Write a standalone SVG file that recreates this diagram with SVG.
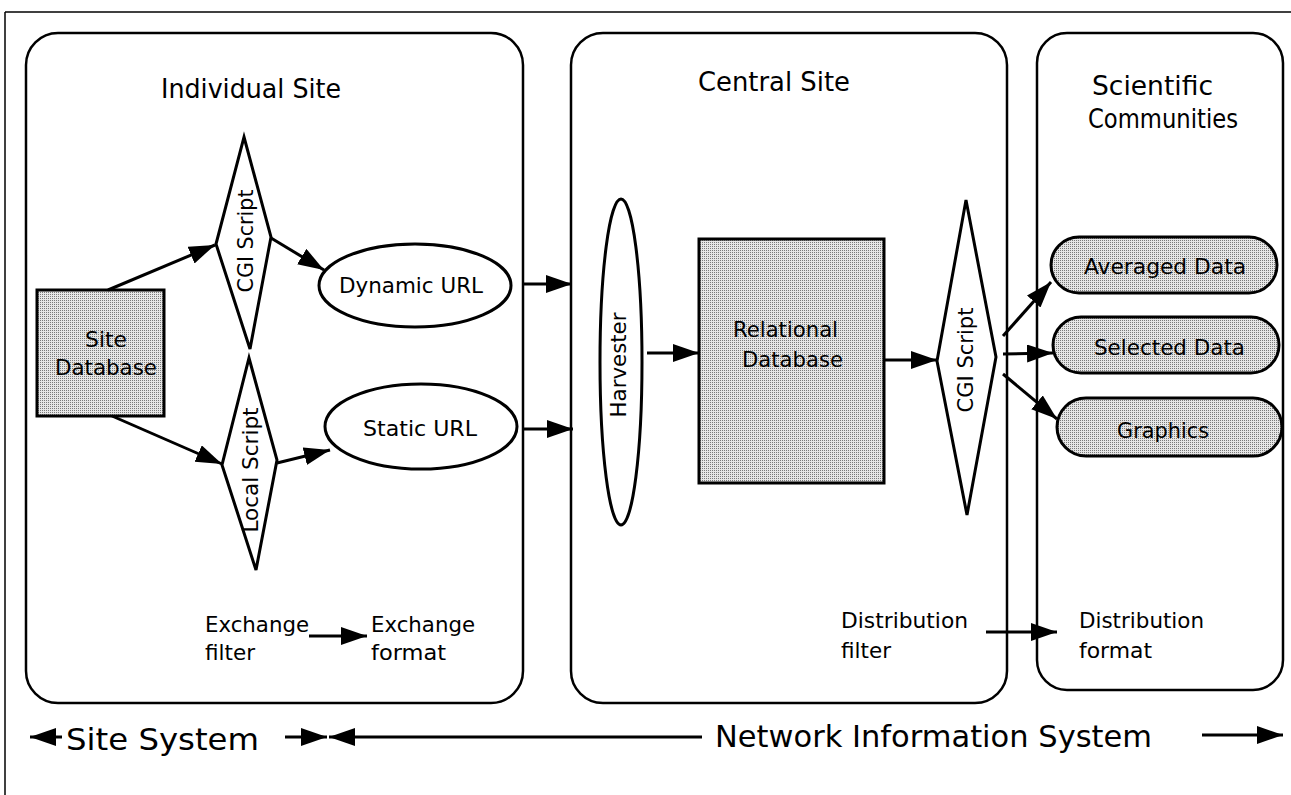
<svg xmlns="http://www.w3.org/2000/svg" width="1291" height="795" viewBox="0 0 1291 795">
<defs>
<pattern id="dots" width="2" height="2" patternUnits="userSpaceOnUse">
<rect width="2" height="2" fill="#e6e6e6"/>
<rect width="1" height="1" fill="#7a7a7a"/>
</pattern>
<marker id="ah" markerUnits="userSpaceOnUse" markerWidth="28" markerHeight="20" refX="26" refY="9" orient="auto">
<path d="M0,0 L26,9 L0,18 Z" fill="#000"/>
</marker>
</defs>
<style>
text{font-family:"DejaVu Sans","Liberation Sans",Arial,sans-serif;fill:#000}
.panel{fill:none;stroke:#000;stroke-width:2.5}
.node{stroke:#000;stroke-width:3}
.gray{fill:url(#dots)}
.white{fill:#fff}
.conn{stroke:#000;stroke-width:3;fill:none;marker-end:url(#ah)}
.t27{font-size:26px}
.t23{font-size:22px}
.t22{font-size:21px}
.t32{font-size:31px}
</style>
<rect width="1291" height="795" fill="#fff"/>
<g id="frame">
<line x1="5" y1="12" x2="1291" y2="12" stroke="#000" stroke-width="1.5"/>
<line x1="5" y1="12" x2="5" y2="795" stroke="#000" stroke-width="1.5"/>
</g>
<g id="individual-site">
<rect class="panel" x="26" y="33" width="497" height="670" rx="32"/>
<text class="t27" x="161" y="98" textLength="180" lengthAdjust="spacingAndGlyphs">Individual Site</text>
</g>
<g id="central-site">
<rect class="panel" x="571" y="33" width="436" height="670" rx="32"/>
<text class="t27" x="698" y="91" textLength="152" lengthAdjust="spacingAndGlyphs">Central Site</text>
</g>
<g id="scientific-communities">
<rect class="panel" x="1037" y="33" width="246" height="657" rx="30"/>
<text class="t27" x="1092" y="95" textLength="121" lengthAdjust="spacingAndGlyphs">Scientific</text>
<text class="t27" x="1088" y="128" textLength="150" lengthAdjust="spacingAndGlyphs">Communities</text>
</g>
<g id="site-database">
<rect class="node gray" x="37" y="290" width="127" height="126"/>
<text class="t22" x="106" y="347" text-anchor="middle" textLength="42" lengthAdjust="spacingAndGlyphs">Site</text>
<text class="t22" x="106" y="375" text-anchor="middle" textLength="102" lengthAdjust="spacingAndGlyphs">Database</text>
</g>
<g id="cgi-script-site">
<polygon class="node white" points="244,137 271,237 250,349 216,244"/>
<text class="t22" transform="translate(253,241) rotate(-90)" text-anchor="middle" textLength="103" lengthAdjust="spacingAndGlyphs">CGI Script</text>
</g>
<g id="local-script">
<polygon class="node white" points="249,358 277,460 256,570 222,465"/>
<text class="t22" transform="translate(258,470) rotate(-90)" text-anchor="middle" textLength="125" lengthAdjust="spacingAndGlyphs">Local Script</text>
</g>
<g id="dynamic-url">
<ellipse class="node white" cx="415" cy="285.5" rx="96" ry="41.5"/>
<text class="t23" x="339" y="293" textLength="144" lengthAdjust="spacingAndGlyphs">Dynamic URL</text>
</g>
<g id="static-url">
<ellipse class="node white" cx="421" cy="426.5" rx="96" ry="42.5"/>
<text class="t23" x="363" y="436" textLength="114" lengthAdjust="spacingAndGlyphs">Static URL</text>
</g>
<g id="harvester">
<ellipse class="node white" cx="621" cy="362" rx="21" ry="163"/>
<text class="t22" transform="translate(626,365) rotate(-90)" text-anchor="middle" textLength="105" lengthAdjust="spacingAndGlyphs">Harvester</text>
</g>
<g id="relational-database">
<rect class="node gray" x="699" y="239" width="185" height="244"/>
<text class="t23" x="733" y="337" textLength="105" lengthAdjust="spacingAndGlyphs">Relational</text>
<text class="t23" x="742" y="367" textLength="101" lengthAdjust="spacingAndGlyphs">Database</text>
</g>
<g id="cgi-script-central">
<polygon class="node white" points="966,200 996,357 967,515 937,361"/>
<text class="t22" transform="translate(973,360) rotate(-90)" text-anchor="middle" textLength="105" lengthAdjust="spacingAndGlyphs">CGI Script</text>
</g>
<g id="averaged-data">
<rect class="node gray" x="1051" y="237" width="226" height="56" rx="28"/>
<text class="t22" x="1084" y="274" textLength="162" lengthAdjust="spacingAndGlyphs">Averaged Data</text>
</g>
<g id="selected-data">
<rect class="node gray" x="1053" y="317" width="226" height="56" rx="28"/>
<text class="t22" x="1094" y="355" textLength="151" lengthAdjust="spacingAndGlyphs">Selected Data</text>
</g>
<g id="graphics">
<rect class="node gray" x="1057" y="398" width="225" height="58" rx="29"/>
<text class="t22" x="1117" y="438" textLength="92" lengthAdjust="spacingAndGlyphs">Graphics</text>
</g>
<g id="labels">
<text class="t22" x="205" y="632" textLength="104" lengthAdjust="spacingAndGlyphs">Exchange</text>
<text class="t22" x="205" y="660" textLength="50" lengthAdjust="spacingAndGlyphs">filter</text>
<text class="t22" x="371" y="632" textLength="104" lengthAdjust="spacingAndGlyphs">Exchange</text>
<text class="t22" x="371" y="660" textLength="75" lengthAdjust="spacingAndGlyphs">format</text>
<text class="t22" x="841" y="628" textLength="127" lengthAdjust="spacingAndGlyphs">Distribution</text>
<text class="t22" x="841" y="658" textLength="50" lengthAdjust="spacingAndGlyphs">filter</text>
<text class="t22" x="1079" y="628" textLength="125" lengthAdjust="spacingAndGlyphs">Distribution</text>
<text class="t22" x="1079" y="658" textLength="73" lengthAdjust="spacingAndGlyphs">format</text>
<text class="t32" x="66" y="750" textLength="193" lengthAdjust="spacingAndGlyphs">Site System</text>
<text class="t32" x="715" y="747" textLength="437" lengthAdjust="spacingAndGlyphs">Network Information System</text>
</g>
<g id="connectors">
<line class="conn" x1="108" y1="290" x2="215" y2="245"/>
<line class="conn" x1="112" y1="416" x2="222" y2="464"/>
<line class="conn" x1="271" y1="238" x2="324" y2="270"/>
<line class="conn" x1="277" y1="463" x2="330" y2="450"/>
<line class="conn" x1="523" y1="284" x2="572" y2="284"/>
<line class="conn" x1="523" y1="429" x2="573" y2="429"/>
<line class="conn" x1="647" y1="353" x2="699" y2="353"/>
<line class="conn" x1="885" y1="360" x2="937" y2="360"/>
<line class="conn" x1="1003" y1="336" x2="1051" y2="282"/>
<line class="conn" x1="1003" y1="354" x2="1053" y2="353"/>
<line class="conn" x1="1003" y1="374" x2="1057" y2="419"/>
<line class="conn" x1="309" y1="636" x2="367" y2="636"/>
<line class="conn" x1="986" y1="632" x2="1057" y2="632"/>
<line class="conn" x1="62" y1="737" x2="30" y2="737"/>
<line class="conn" x1="285" y1="737" x2="327" y2="737"/>
<line class="conn" x1="702" y1="737" x2="329" y2="737"/>
<line class="conn" x1="1202" y1="735" x2="1283" y2="735"/>
</g>
</svg>
